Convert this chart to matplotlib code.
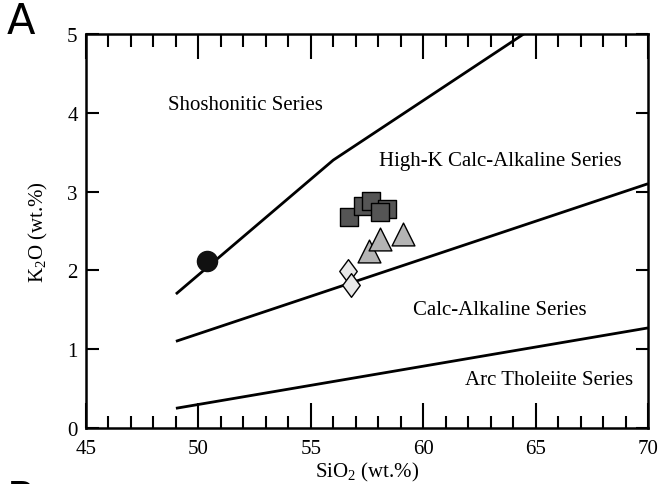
import matplotlib.pyplot as plt
import numpy as np
from matplotlib.path import Path
from matplotlib.ticker import MultipleLocator

plt.rcParams['font.family'] = ['Liberation Serif', 'DejaVu Serif']
plt.rcParams['mathtext.fontset'] = 'custom'
plt.rcParams['mathtext.rm'] = 'Liberation Serif'

# Series boundary lines (SiO2, K2O)
shosh_x = [49, 56, 65]
shosh_y = [1.7, 3.4, 5.1]
highk_x = [49, 70]
highk_y = [1.1, 3.1]
calc_x = [49, 70]
calc_y = [0.25, 1.27]

# Samples
circle_x = [50.4]
circle_y = [2.12]
square_x = [56.7, 57.3, 57.7, 58.4, 58.1]
square_y = [2.68, 2.82, 2.88, 2.78, 2.74]
triangle_x = [57.6, 58.1, 59.1]
triangle_y = [2.25, 2.40, 2.46]
diamond_x = [56.65, 56.8]
diamond_y = [1.99, 1.82]

field_labels = ['Shoshonitic Series', 'High-K Calc-Alkaline Series',
                'Calc-Alkaline Series', 'Arc Tholeiite Series']
label_x = [52.1, 63.45, 63.4, 65.6]
label_y = [4.1, 3.39, 1.51, 0.61]

fig = plt.figure(figsize=(6.61, 4.85), dpi=100)
ax = fig.add_axes([86 / 661, 1 - 429 / 485, 562 / 661, 394 / 485])

for xs, ys in [(shosh_x, shosh_y), (highk_x, highk_y), (calc_x, calc_y)]:
    ax.plot(xs, ys, color='black', lw=2.0, solid_capstyle='butt', zorder=2)

tall_diamond = Path([(0, 1), (0.74, 0), (0, -1), (-0.74, 0), (0, 1)],
                    [Path.MOVETO, Path.LINETO, Path.LINETO, Path.LINETO, Path.CLOSEPOLY])

ax.scatter(circle_x, circle_y, s=210, marker='o', color='#111111', zorder=3)
ax.scatter(square_x, square_y, s=180, marker='s', facecolor='#555555',
           edgecolor='black', linewidths=1.0, zorder=3)
ax.scatter(triangle_x, triangle_y, s=270, marker='^', facecolor='#b4b4b4',
           edgecolor='black', linewidths=1.0, zorder=3)
ax.scatter(diamond_x, diamond_y, s=290, marker=tall_diamond, facecolor='#e8e8e8',
           edgecolor='black', linewidths=1.0, zorder=3)

for txt, x, y in zip(field_labels, label_x, label_y):
    ax.text(x, y, txt, fontsize=15, ha='center', va='center')

ax.set_xlim(45, 70)
ax.set_ylim(0, 5)
ax.xaxis.set_major_locator(MultipleLocator(5))
ax.xaxis.set_minor_locator(MultipleLocator(1))
ax.yaxis.set_major_locator(MultipleLocator(1))
ax.tick_params(axis='x', which='major', direction='in', length=18, width=1.5,
               top=True, labelsize=15, pad=8)
ax.tick_params(axis='x', which='minor', direction='in', length=9, width=1.5, top=True)
ax.tick_params(axis='y', which='major', direction='in', length=9, width=1.5,
               right=True, labelsize=15, pad=6)
for sp in ax.spines.values():
    sp.set_linewidth(1.8)

ax.set_xlabel(r'SiO$_2$ (wt.%)', fontsize=15, labelpad=1)
ax.set_ylabel(r'K$_2$O (wt.%)', fontsize=15, labelpad=12)

fig.text(7 / 661, 1 - 22 / 485, 'A', fontsize=30, family='DejaVu Sans', va='center')
fig.text(7 / 661, 1 - 500 / 485, 'B', fontsize=30, family='DejaVu Sans', va='center')

fig.savefig('out.png', dpi=100)
